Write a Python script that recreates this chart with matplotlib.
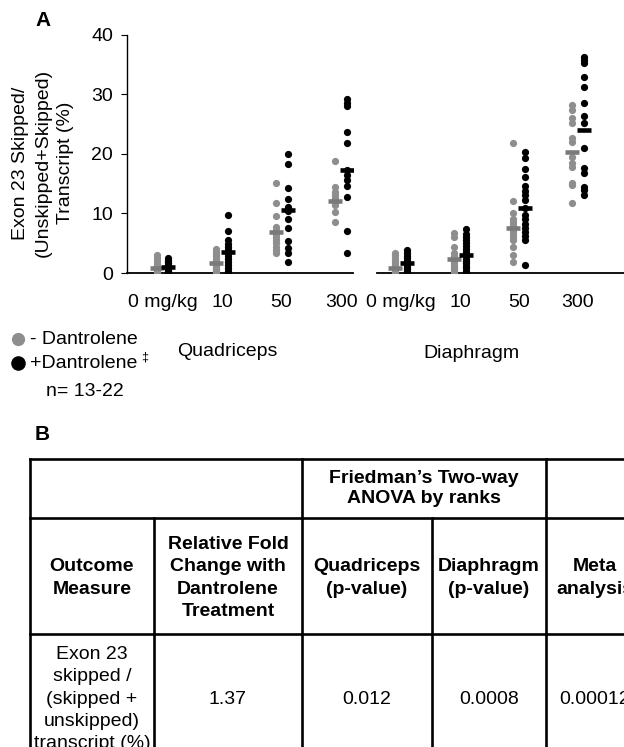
import matplotlib
matplotlib.use("Agg")
import matplotlib.pyplot as plt

plt.rcParams["font.family"] = ["Liberation Sans", "DejaVu Sans"]

# --- data (percent exon 23 skipped transcript) ---
doses = ["0 mg/kg", "10", "50", "300"]

quad_minus = [
    [0.0, 0.1, 0.2, 0.3, 0.4, 0.5, 0.5, 0.6, 0.7, 0.8, 1.0, 1.2, 1.5, 2.0, 2.6, 3.0],
    [0.0, 0.1, 0.3, 0.5, 0.7, 0.9, 1.1, 1.4, 1.7, 2.0, 2.4, 2.8, 3.2, 3.6, 4.0],
    [3.3, 3.8, 4.3, 5.0, 5.6, 6.1, 6.6, 7.2, 7.8, 9.6, 11.7, 15.2],
    [8.6, 10.3, 11.4, 12.1, 12.6, 13.1, 13.6, 14.5, 18.8],
]
quad_plus = [
    [0.0, 0.2, 0.4, 0.5, 0.7, 0.9, 1.1, 1.3, 1.6, 1.9, 2.2, 2.6],
    [0.0, 0.4, 0.9, 1.4, 1.9, 2.4, 2.9, 3.4, 3.9, 4.4, 4.9, 5.5, 7.0, 9.8],
    [1.9, 3.3, 4.2, 5.4, 7.5, 9.1, 10.4, 11.1, 12.4, 14.3, 18.3, 20.0],
    [3.3, 7.1, 12.8, 14.6, 15.6, 16.5, 17.3, 21.8, 23.7, 28.1, 28.6, 29.2],
]
dia_minus = [
    [0.0, 0.1, 0.3, 0.5, 0.7, 0.9, 1.1, 1.4, 1.7, 2.0, 2.5, 3.0, 3.4],
    [0.0, 0.3, 0.6, 0.9, 1.2, 1.6, 2.0, 2.4, 2.8, 3.3, 4.4, 6.0, 6.7],
    [1.8, 3.0, 4.4, 5.5, 6.0, 6.5, 7.0, 7.6, 8.1, 8.6, 9.1, 10.1, 12.1, 21.8],
    [11.8, 14.8, 15.1, 17.8, 18.5, 19.5, 22.0, 22.7, 25.2, 26.1, 27.4, 28.2],
]
dia_plus = [
    [0.0, 0.3, 0.6, 0.9, 1.2, 1.5, 1.8, 2.1, 2.5, 2.9, 3.3, 3.8],
    [0.0, 0.4, 0.8, 1.2, 1.6, 2.0, 2.4, 2.8, 3.2, 3.6, 4.0, 4.5, 5.0, 5.5, 6.0, 6.6, 7.4],
    [1.3, 5.5, 6.2, 6.9, 7.6, 8.3, 9.0, 9.7, 10.9, 12.3, 13.1, 13.8, 14.6, 16.1, 17.5, 19.3, 20.3],
    [13.1, 13.9, 14.5, 16.8, 17.6, 21.0, 25.2, 26.4, 28.6, 31.3, 33.0, 35.3, 35.8, 36.3],
]
# group means as drawn
quad_minus_mean = [0.8, 1.6, 6.9, 12.1]
quad_plus_mean = [1.0, 3.5, 10.6, 17.3]
dia_minus_mean = [0.8, 2.3, 7.6, 20.4]
dia_plus_mean = [1.6, 3.0, 10.9, 24.0]

# --- table B ---
tbl_group = "Friedman\u2019s Two-way\nANOVA by ranks"
tbl_header = ["Outcome\nMeasure", "Relative Fold\nChange with\nDantrolene\nTreatment",
              "Quadriceps\n(p-value)", "Diaphragm\n(p-value)", "Meta\nanalysis"]
tbl_row = ["Exon 23\nskipped /\n(skipped +\nunskipped)\ntranscript (%)",
           "1.37", "0.012", "0.0008", "0.00012"]

GRAY = "#8e8e8e"
W, H = 624, 747
fig = plt.figure(figsize=(W / 100, H / 100), dpi=100)


def px(x0, y0, x1, y1):
    return [x0 / W, 1 - y1 / H, (x1 - x0) / W, (y1 - y0) / H]


def draw_panel(ax, minus, plus, mminus, mplus):
    for i in range(len(doses)):
        ax.plot([i - 0.1] * len(minus[i]), minus[i], "o", color=GRAY, ms=5.2, mew=0, zorder=3)
        ax.plot([i + 0.1] * len(plus[i]), plus[i], "o", color="black", ms=5.2, mew=0, zorder=3)
        ax.plot(i - 0.1, mminus[i], "_", color="#7a7a7a", ms=10.5, mew=3.3, zorder=4)
        ax.plot(i + 0.1, mplus[i], "_", color="black", ms=10.5, mew=3.3, zorder=4)
    ax.set_xticks(range(len(doses)))
    ax.set_xticklabels(doses, fontsize=14)
    ax.tick_params(axis="x", length=0, pad=15)
    ax.set_ylim(0, 40)
    for s in ["top", "right"]:
        ax.spines[s].set_visible(False)
    ax.spines["bottom"].set_linewidth(1.3)
    ax.set_facecolor("none")


ax1 = fig.add_axes(px(127, 35, 353, 273))
draw_panel(ax1, quad_minus, quad_plus, quad_minus_mean, quad_plus_mean)
ax1.set_xlim(-0.597, 3.2)
ax1.set_yticks([0, 10, 20, 30, 40])
ax1.tick_params(axis="y", labelsize=14, length=4, pad=6)
ax1.spines["left"].set_linewidth(1.0)

ax2 = fig.add_axes(px(377, 35, 700, 273))
draw_panel(ax2, dia_minus, dia_plus, dia_minus_mean, dia_plus_mean)
ax2.set_xlim(-0.407, 5.07)
ax2.spines["left"].set_visible(False)
ax2.set_yticks([])

# overlay in pixel coordinates for labels, legend and table
ov = fig.add_axes([0, 0, 1, 1], zorder=-1)
ov.set_xlim(0, W)
ov.set_ylim(H, 0)
ov.axis("off")

ov.text(43, 163, "Exon 23 Skipped/\n(Unskipped+Skipped)\nTranscript (%)", fontsize=14,
        rotation=90, ha="center", va="center", linespacing=1.45)

ov.text(35, 21, "A", fontsize=15, fontweight="bold", va="center")
ov.text(35, 434, "B", fontsize=15, fontweight="bold", va="center")

ov.plot(18, 339, "o", color=GRAY, ms=9.5, mew=0)
ov.plot(18, 363, "o", color="black", ms=10.5, mew=0)
ov.text(30, 339, "- Dantrolene", fontsize=14, va="center")
ov.text(30, 363, "+Dantrolene", fontsize=14, va="center")
ov.text(141, 358, "\u2021", fontsize=9, va="center")
ov.text(46, 392, "n= 13-22", fontsize=14, va="center")
ov.text(227, 352, "Quadriceps", fontsize=14, va="center", ha="center")
ov.text(471, 354, "Diaphragm", fontsize=14, va="center", ha="center")

# table grid
cols = [30, 154, 302, 432, 546, 700]
rows = [459, 518, 634, 800]
lw = 1.9
for y in rows[:3]:
    ov.plot([cols[0], cols[-1]], [y, y], color="black", lw=lw)
ov.plot([cols[0], cols[0]], [rows[0], rows[-1]], color="black", lw=lw)
for x in [cols[2], cols[4]]:
    ov.plot([x, x], [rows[0], rows[-1]], color="black", lw=lw)
for x in [cols[1], cols[3]]:
    ov.plot([x, x], [rows[1], rows[-1]], color="black", lw=lw)

ls = 1.42
ov.text((cols[2] + cols[4]) / 2, (rows[0] + rows[1]) / 2, tbl_group, fontsize=14,
        fontweight="bold", ha="center", va="center", linespacing=1.25)
meta_center = 595
for i, t in enumerate(tbl_header):
    cx = (cols[i] + cols[i + 1]) / 2 if i < 4 else meta_center
    ov.text(cx, (rows[1] + rows[2]) / 2 + 2, t, fontsize=14, fontweight="bold",
            ha="center", va="center", linespacing=ls)
row3_y = 699
ov.text((cols[0] + cols[1]) / 2, row3_y, tbl_row[0], fontsize=14, ha="center",
        va="center", linespacing=ls)
for i, t in enumerate(tbl_row[1:], start=1):
    cx = (cols[i] + cols[i + 1]) / 2 if i < 4 else meta_center
    ov.text(cx, row3_y, t, fontsize=14, ha="center", va="center")

fig.savefig("out.png", dpi=100)
